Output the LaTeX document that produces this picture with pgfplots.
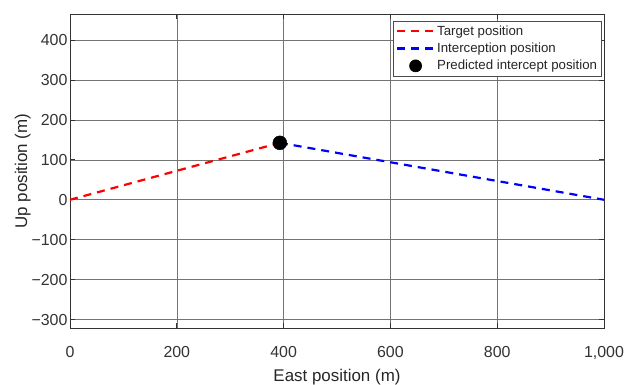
\documentclass[border=0pt]{standalone}
\usepackage{fontspec}
\setmainfont{Liberation Sans}
\usepackage{pgfplots}
\pgfplotsset{compat=1.18}
\begin{document}
\begin{tikzpicture}[x=1bp,y=1bp]
\useasboundingbox (-70bp,-57bp) rectangle (568bp,328bp);
\begin{axis}[
  at={(0bp,0bp)}, anchor=south west,
  scale only axis, width=534bp, height=314bp,
  xmin=0, xmax=1000, ymin=-321, ymax=465,
  xtick={0,200,400,600,800,1000},
  xticklabels={0,200,400,600,800,{1,000}},
  ytick={-300,-200,-100,0,100,200,300,400},
  yticklabels={−300,−200,−100,0,100,200,300,400},
  grid=major,
  major grid style={black!55, line width=0.6bp},
  axis line style={black!80, line width=0.7bp},
  tick style={black!80, line width=0.7bp},
  tick align=inside, major tick length=5bp,
  xtick pos=both, ytick pos=both,
  ticklabel style={font=\fontsize{16}{18}\selectfont, text=black!80},
  xticklabel style={yshift=-15bp},
  yticklabel style={xshift=1bp},
  xlabel={East position (m)}, ylabel={Up position (m)},
  label style={font=\fontsize{17}{19}\selectfont, text=black!85},
  xlabel style={yshift=-2.5bp},
  ylabel style={yshift=-6bp},
  legend style={at={(0.996,0.978)}, anchor=north east, font=\fontsize{13.3}{15}\selectfont,
    draw=black!70, line width=0.7bp, row sep=2.2bp, inner sep=2.5bp, text=black!85},
  legend cell align=left,
  legend image code/.code={\draw[#1] (0bp,0bp) -- (37bp,0bp);},
]
\addplot[red, line width=2.2bp, dash pattern=on 8bp off 6bp] coordinates {(0,0) (393,142.5)};
\addlegendentry{Target position}
\addplot[blue, line width=2.2bp, dash pattern=on 8bp off 6bp] coordinates {(393,142.5) (1000,0)};
\addlegendentry{Interception position}
\addplot[only marks, mark=*, mark size=7bp, black, legend image code/.code={\fill[black] (18.5bp,0bp) circle (6bp);}] coordinates {(393,142.5)};
\addlegendentry{Predicted intercept position}
\end{axis}
\end{tikzpicture}
\end{document}
